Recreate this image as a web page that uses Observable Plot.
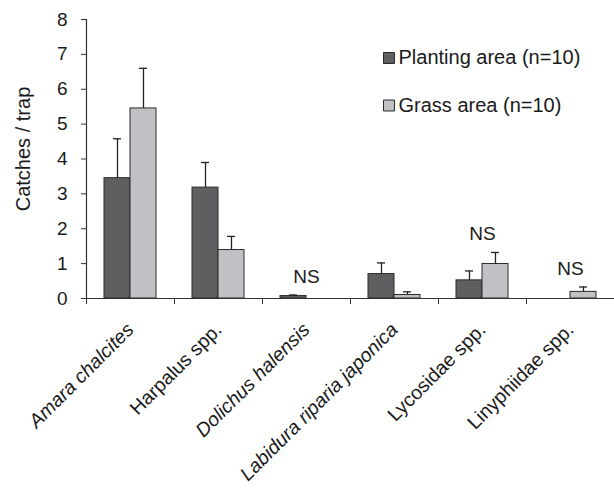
<!DOCTYPE html>
<html><head><meta charset="utf-8">
<script src="https://cdn.jsdelivr.net/npm/d3@7"></script>
<script src="https://cdn.jsdelivr.net/npm/@observablehq/plot@0.6"></script>
<style>body{margin:0;background:#fff}</style>
</head><body><div id="chart"></div>
<script>
const categories = ["Amara chalcites","Harpalus spp.","Dolichus halensis","Labidura riparia japonica","Lycosidae spp.","Linyphiidae spp."];
const italicCategories = ["Amara chalcites","Dolichus halensis","Labidura riparia japonica"];
const seriesNames = ["Planting area (n=10)","Grass area (n=10)"];
const plantingMean = [3.45, 3.18, 0.07, 0.70, 0.52, 0];
const plantingSE   = [1.13, 0.72, 0.03, 0.32, 0.27, 0];
const grassMean    = [5.45, 1.39, 0, 0.10, 0.99, 0.19];
const grassSE      = [1.15, 0.39, 0, 0.09, 0.33, 0.14];
const nsCategories = ["Dolichus halensis","Lycosidae spp.","Linyphiidae spp."];
const yTicks = [0,1,2,3,4,5,6,7,8];

const colors = ["#5f5f61","#c0c1c5"];
const ink = "#1a1a1a";
const font = "'Liberation Sans', Arial, sans-serif";

const rows = [];
categories.forEach((c,i)=>{
  rows.push({cat:c, series:0, mean: plantingMean[i], se: plantingSE[i]});
  rows.push({cat:c, series:1, mean: grassMean[i], se: grassSE[i]});
});
const bySeries = s => rows.filter(d => d.series === s && d.mean > 0);
const withErr = s => rows.filter(d => d.series === s && d.se > 0);
const nsRows = nsCategories.map(c => ({cat:c, top: d3.max(rows.filter(r=>r.cat===c), r=>r.mean+r.se)}));
const regularCategories = categories.filter(c => !italicCategories.includes(c));

const barMarks = [0,1].flatMap(s => {
  const off = s === 0 ? -13 : 13;
  return [
    Plot.barY(bySeries(s), {x:"cat", y:"mean", fill: colors[s], stroke:"#2a2a2a", strokeWidth:1,
      insetLeft: s===0 ? 18 : 44, insetRight: s===0 ? 44 : 18}),
    Plot.ruleX(withErr(s), {x:"cat", y1: d=>d.mean, y2: d=>d.mean+d.se, dx: off, stroke:"#222", strokeWidth:1.3}),
    Plot.tickY(withErr(s), {x:"cat", y: d=>d.mean+d.se, dx: off, insetLeft:40, insetRight:40, stroke:"#222", strokeWidth:1.3})
  ];
});

const legendMarks = seriesNames.flatMap((name,i) => [
  Plot.dot([name], {frameAnchor:"top-left", dx:302.5, dy:38.5 + i*47.5, symbol:"square", r:6.2, fill: colors[i], stroke:"#2a2a2a", strokeWidth:1}),
  Plot.text([name], {frameAnchor:"top-left", dx:312, dy:38.5 + i*47.5, text: d=>d, textAnchor:"start", lineAnchor:"middle", fontSize:20, fill: ink})
]);

const chart = Plot.plot({
  width: 614, height: 490,
  marginLeft: 86, marginRight: 0, marginTop: 19, marginBottom: 192,
  style: {fontFamily: font, color: ink, background: "#fff"},
  x: {domain: categories, padding: 0, axis: null},
  y: {domain: [0, 8], axis: null},
  marks: [
    ...barMarks,
    Plot.ruleY([0], {stroke:"#333", strokeWidth:1.2}),
    Plot.frame({anchor:"left", stroke:"#333", strokeWidth:1.2}),
    Plot.axisY({ticks: yTicks, tickSize:5, tickPadding:14, fontSize:19, label:null, stroke:"#333"}),
    Plot.axisX({tickSize:6, dx:-44, tickFormat: () => "", label:null, stroke:"#333"}),
    Plot.axisX({ticks: italicCategories, tickSize:0, tickRotate:-45, tickPadding:28, fontSize:19.5, fontStyle:"italic", label:null}),
    Plot.axisX({ticks: regularCategories, tickSize:0, tickRotate:-45, tickPadding:28, fontSize:19.5, label:null}),
    Plot.text(nsRows, {x:"cat", y:"top", text: () => "NS", dy:-12, lineAnchor:"bottom", fontSize:19, fill: ink}),
    Plot.text(["Catches / trap"], {frameAnchor:"left", text: d=>d, rotate:-90, dx:-63, dy:-10, textAnchor:"middle", lineAnchor:"middle", fontSize:20, fill: ink}),
    ...legendMarks
  ]
});
document.getElementById("chart").append(chart);
</script>
</body></html>
